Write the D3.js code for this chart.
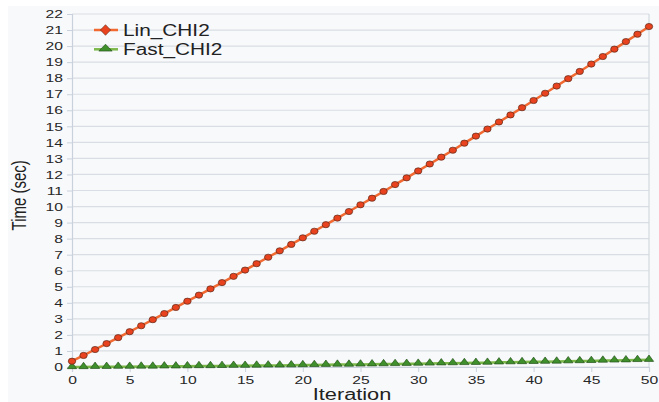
<!DOCTYPE html>
<html>
<head>
<meta charset="utf-8">
<script src="https://cdn.jsdelivr.net/npm/d3@7"></script>
<style>
  body { margin: 0; background: #fff; }
  svg { display: block; font-family: "Liberation Sans", Arial, sans-serif; }
</style>
</head>
<body>
<div class="chart"></div>
<script>
// data
const iterations = d3.range(0, 51)
const seriesNames = ["Lin_CHI2", "Fast_CHI2"]
const linChi2 = [
  0.36, 0.72, 1.09, 1.46, 1.83, 2.20, 2.57, 2.95, 3.33, 3.71,
  4.10, 4.48, 4.87, 5.26, 5.65, 6.04, 6.44, 6.84, 7.24, 7.64,
  8.05, 8.46, 8.87, 9.28, 9.69, 10.11, 10.52, 10.94, 11.37, 11.79,
  12.22, 12.65, 13.08, 13.51, 13.95, 14.39, 14.83, 15.27, 15.71, 16.16,
  16.61, 17.06, 17.51, 17.97, 18.42, 18.88, 19.35, 19.81, 20.28, 20.74,
  21.22
]
const fastChi2 = [
  0.00, 0.00, 0.01, 0.01, 0.02, 0.02, 0.03, 0.03, 0.04, 0.04,
  0.05, 0.06, 0.06, 0.07, 0.08, 0.08, 0.09, 0.10, 0.10, 0.11,
  0.12, 0.13, 0.14, 0.15, 0.15, 0.16, 0.17, 0.18, 0.19, 0.20,
  0.21, 0.22, 0.23, 0.24, 0.25, 0.26, 0.27, 0.29, 0.30, 0.31,
  0.32, 0.33, 0.34, 0.36, 0.37, 0.38, 0.40, 0.41, 0.42, 0.44,
  0.45
]
const xTicks = [0, 5, 10, 15, 20, 25, 30, 35, 40, 45, 50]
const yTicks = d3.range(0, 23)

const width = 659
const height = 402
const margin = { left: 72, right: 10, top: 14, bottom: 35 }
// the original picture is stretched sideways, so text is widened a bit
const stretchX = 1.36

function widen(sel, k) {
  sel.each(function() {
    const w = this.getComputedTextLength()
    d3.select(this)
      .attr('textLength', w * k)
      .attr('lengthAdjust', 'spacingAndGlyphs')
  })
}

const svg = d3.select('.chart')
  .append('svg')
  .attr('width', width)
  .attr('height', height)

// light chart background
svg.append('rect')
  .attr('x', 8).attr('y', 6)
  .attr('width', width - 8).attr('height', height - 6)
  .attr('fill', '#f8f9fb')

const xScale = d3.scaleLinear()
  .domain([0, 50])
  .range([margin.left, width - margin.right])

const yScale = d3.scaleLinear()
  .domain([0, 22])
  .range([height - margin.bottom, margin.top])

// horizontal grid
svg.append('g')
  .selectAll('line')
  .data(yTicks)
  .enter()
  .append('line')
  .attr('x1', xScale(0))
  .attr('x2', xScale(50))
  .attr('y1', d => yScale(d))
  .attr('y2', d => yScale(d))
  .attr('stroke', '#d9dee4')
  .attr('stroke-width', 1.2)

// right border
svg.append('line')
  .attr('x1', xScale(50)).attr('x2', xScale(50))
  .attr('y1', yScale(22)).attr('y2', yScale(0))
  .attr('stroke', '#d2d9e0')
  .attr('stroke-width', 1.2)

// y axis
const yAxis = d3.axisLeft(yScale)
  .tickValues(yTicks)
  .tickSize(5)
  .tickPadding(4)
const gy = svg.append('g')
  .attr('transform', `translate(${xScale(0)}, 0)`)
  .call(yAxis)
gy.select('.domain').attr('stroke', '#c9d2dc').attr('stroke-width', 1.2)
gy.selectAll('.tick line').attr('stroke', '#c9d2dc')
gy.selectAll('.tick text')
  .attr('fill', '#262626')
  .style('font-size', '11.5px')
  .style('font-family', '"Liberation Sans", Arial, sans-serif')
  .call(widen, stretchX)

// x axis
const xAxis = d3.axisBottom(xScale)
  .tickValues(xTicks)
  .tickSize(5)
  .tickPadding(4)
const gx = svg.append('g')
  .attr('transform', `translate(0, ${yScale(0)})`)
  .call(xAxis)
gx.select('.domain').attr('stroke', '#c9d2dc').attr('stroke-width', 1.2)
gx.selectAll('.tick line').attr('stroke', '#c9d2dc')
gx.selectAll('.tick text')
  .attr('fill', '#262626')
  .style('font-size', '11.5px')
  .style('font-family', '"Liberation Sans", Arial, sans-serif')
  .call(widen, stretchX)

// axis titles
svg.append('text')
  .attr('text-anchor', 'middle')
  .attr('x', 352)
  .attr('y', 400)
  .attr('fill', '#222')
  .style('font-size', '16px')
  .text('Iteration')
  .call(widen, stretchX)

// rotated title: its glyph height runs along x, so stretch that way
svg.append('text')
  .attr('text-anchor', 'middle')
  .attr('transform', `translate(26, ${yScale(10.7)}) scale(${stretchX}, 1) rotate(-90)`)
  .attr('fill', '#222')
  .style('font-size', '15px')
  .text('Time (sec)')

const line = d3.line()
  .x((d, i) => xScale(iterations[i]))
  .y(d => yScale(d))

const linColor = '#f26a32'
const linFill = '#e8421e'
const fastColor = '#7cb84a'
const fastFill = '#3f8f2c'
const tri = d3.symbol().type(d3.symbolTriangle).size(26)

// Fast_CHI2
svg.append('path')
  .datum(fastChi2)
  .attr('d', line)
  .attr('fill', 'none')
  .attr('stroke', fastColor)
  .attr('stroke-width', 2.5)

svg.append('g')
  .selectAll('path')
  .data(fastChi2)
  .enter()
  .append('path')
  .attr('d', tri)
  .attr('transform', (d, i) => `translate(${xScale(iterations[i])}, ${yScale(d) - 0.5}) scale(1.2, 0.95)`)
  .attr('fill', fastFill)
  .attr('stroke', '#1f4a16')
  .attr('stroke-width', 0.6)

// Lin_CHI2
svg.append('path')
  .datum(linChi2)
  .attr('d', line)
  .attr('fill', 'none')
  .attr('stroke', linColor)
  .attr('stroke-width', 2.5)

svg.append('g')
  .selectAll('ellipse')
  .data(linChi2)
  .enter()
  .append('ellipse')
  .attr('cx', (d, i) => xScale(iterations[i]))
  .attr('cy', d => yScale(d))
  .attr('rx', 3.7)
  .attr('ry', 3.1)
  .attr('fill', linFill)
  .attr('stroke', '#5a2a1a')
  .attr('stroke-width', 0.7)

// legend
const legend = svg.append('g')
seriesNames.forEach((name, k) => {
  const y = 30 + k * 19.3
  const isLin = k === 0
  legend.append('line')
    .attr('x1', 94).attr('x2', 118)
    .attr('y1', y).attr('y2', y)
    .attr('stroke', isLin ? linColor : fastColor)
    .attr('stroke-width', 2.5)
  if (isLin) {
    legend.append('path')
      .attr('d', d3.symbol().type(d3.symbolDiamond).size(40))
      .attr('transform', `translate(105.5, ${y}) scale(1.5, 0.9)`)
      .attr('fill', linFill)
      .attr('stroke', '#5a2a1a')
      .attr('stroke-width', 0.5)
  } else {
    legend.append('path')
      .attr('d', d3.symbol().type(d3.symbolTriangle).size(34))
      .attr('transform', `translate(105.5, ${y - 0.5}) scale(1.5, 0.9)`)
      .attr('fill', fastFill)
      .attr('stroke', '#1f4a16')
      .attr('stroke-width', 0.5)
  }
  legend.append('text')
    .attr('x', 123)
    .attr('y', y + 6)
    .attr('fill', '#222')
    .style('font-size', '16px')
    .text(name)
    .call(widen, 1.3)
})
</script>
</body>
</html>
